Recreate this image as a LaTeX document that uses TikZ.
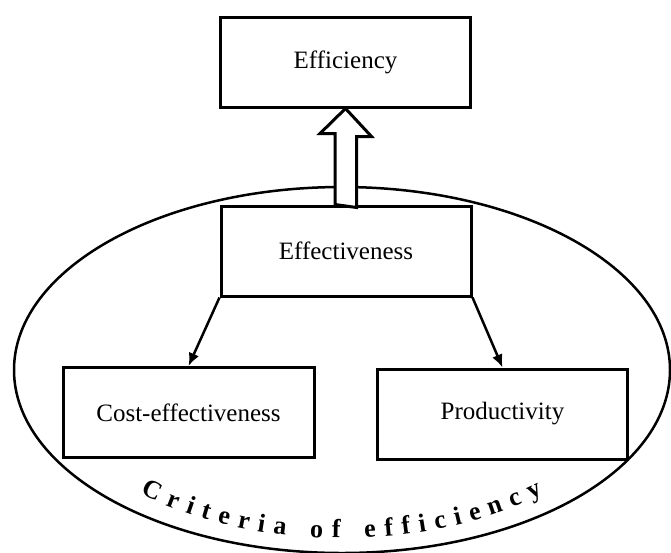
\documentclass[tikz,border=0pt]{standalone}
\usepackage{fontspec}
\setmainfont{Liberation Serif}
\usetikzlibrary{arrows.meta,shapes.geometric,decorations.text}

\tikzset{
  box/.style={draw, line width=3pt, minimum width=250pt, minimum height=90pt,
    inner sep=0pt, font=\fontsize{25}{30}\selectfont},
  conn/.style={line width=2.5pt, -{Latex[length=13pt,width=11pt]}},
  hollow/.style={draw, fill=white, line width=3pt, line join=miter},
}

\begin{document}
\begin{tikzpicture}[x=1pt,y=-1pt]
                \useasboundingbox (0,0) rectangle (671,552);

                \node[draw, ellipse, line width=2.5pt, inner sep=0pt,
                      minimum width=656pt, minimum height=366pt] (criteria) at (342,370) {};

                \node[box] (eff) at (345.5,62) {Efficiency};
                \node[box] (effect) at (346,251) {Effectiveness};
                \node[box, minimum width=251pt] (cost) at (188.5,412.5) {Cost-effectiveness};
                \node[box] (prod) at (502.5,414) {Productivity};

                \draw[conn] (effect.south west) -- (cost.north);
                \draw[conn] (effect.south east) -- (prod.north);

                \draw[hollow] ([xshift=-11pt]effect.north) -- ++(0,-71) -- ++(-15,0)
                    -- (eff.south) -- ++(26,28) -- ++(-15,0) -- ++(0,71) -- cycle;

                \path[decorate, decoration={text along path, text align={fit to path},
                      text={|\bfseries\fontsize{26}{30}\selectfont|Criteria of efficiency}}]
                    plot[domain=0:85, samples=60] ({342+298*cos(132.5-\x)},{370+168*sin(132.5-\x)});

            \end{tikzpicture}
\end{document}
